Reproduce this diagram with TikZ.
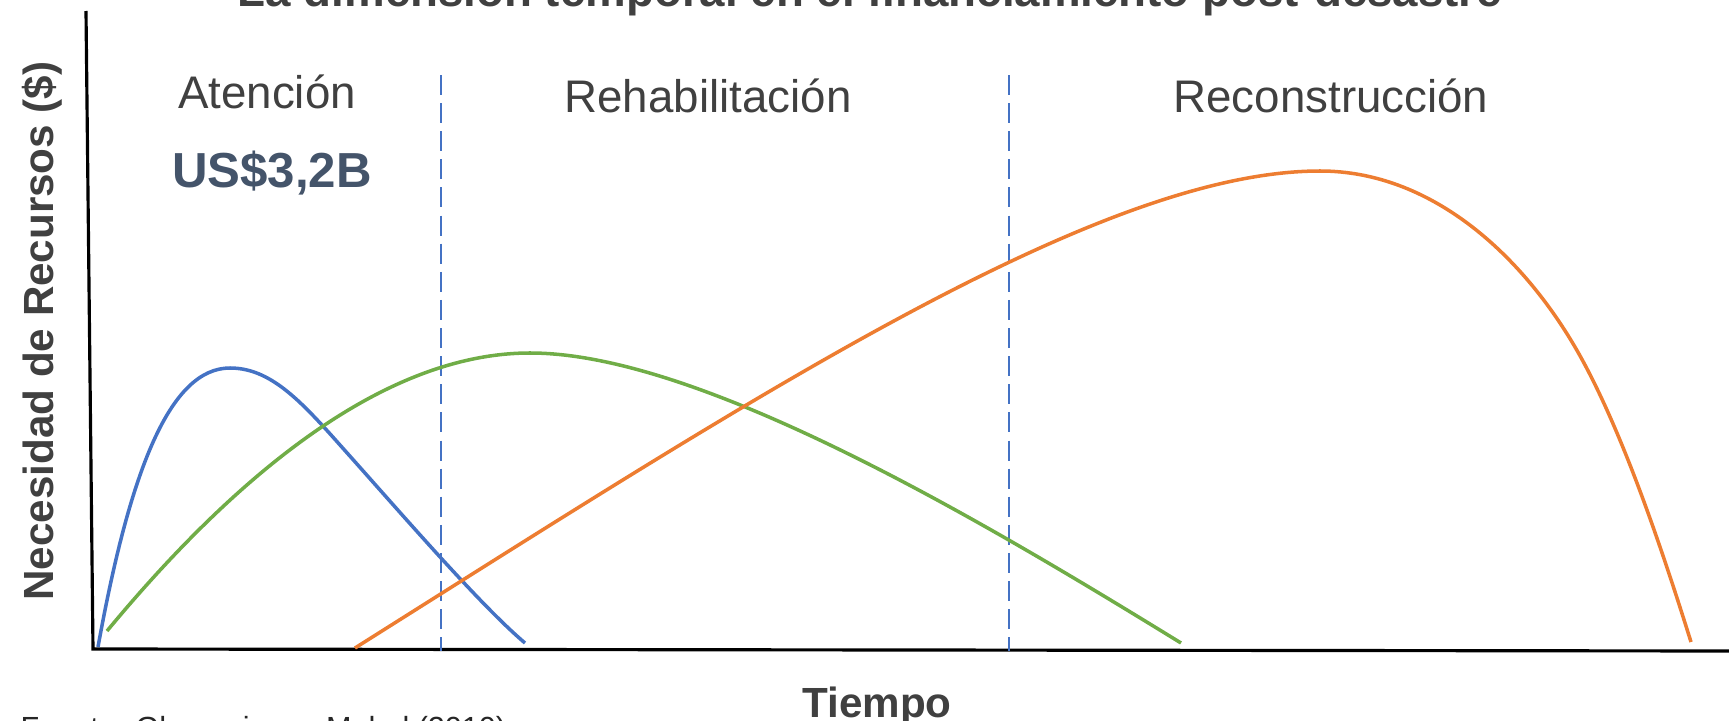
\documentclass[tikz,border=0pt]{standalone}
\usepackage{fontspec}
\setmainfont{Liberation Sans}
\usetikzlibrary{positioning}
\definecolor{txtgray}{HTML}{404040}
\definecolor{slate}{HTML}{44546A}
\definecolor{atenblue}{HTML}{4472C4}
\definecolor{rehabgreen}{HTML}{70AD47}
\definecolor{reconorange}{HTML}{ED7D31}
\begin{document}
\begin{tikzpicture}[x=0.1mm, y=-0.1mm, inner sep=0pt,
        phase/.style = {text=txtgray, font=\fontsize{13}{15}\selectfont, anchor=base},
        axislbl/.style = {text=txtgray, font=\bfseries\fontsize{12}{14}\selectfont, anchor=base},
        curve/.style = {line width=1pt, line join=round},
        split/.style = {atenblue, line width=0.6pt, dash pattern=on 5.7pt off 2.3pt}]
    \path[use as bounding box, clip] (0,0) rectangle (1729,721);
    % titulo y fuente
    \node[text=txtgray, font=\bfseries\fontsize{13}{15}\selectfont, anchor=base] (title) at (870,6) {La dimensión temporal en el financiamiento post-desastre};
    \node[text=black!85, font=\fontsize{8.7}{10}\selectfont, anchor=base west] (src) at (20,738) {Fuente: Ghesquiere y Mahul (2010)};
    % ejes
    \coordinate (top) at (86,11);
    \coordinate (O) at (93,649);
    \coordinate (end) at (1729,651);
    \draw[line width=0.9pt] (top) -- (O) -- (end);
    \node[axislbl] (tiempo) at (877,717) {Tiempo};
    \node[axislbl, rotate=90] (recursos) at (53,331) {Necesidad de Recursos (\$)};
    % fases
    \coordinate (d1) at (441,75);
    \coordinate (d2) at (1009,75);
    \draw[split] (d1) -- (441,651);
    \draw[split] (d2) -- (1009,651);
    \node[phase] (aten) at (267,108) {Atención};
    \node[phase] (rehab) at (708,112) {Rehabilitación};
    \node[phase] (recon) at (1331,112) {Reconstrucción};
    \node[text=slate, font=\bfseries\fontsize{14}{16}\selectfont, anchor=base] (monto) at (272,187) {US\$3,2B};
    % curvas
    \draw[curve, atenblue] (98,647) .. controls (130,470) and (170,368) .. (230,368)
        .. controls (270,368) and (300,400) .. (340,445)
        .. controls (400,512) and (480,605) .. (525,643);
    \draw[curve, rehabgreen] (107,631) .. controls (257,450) and (400,353) .. (530,353)
        .. controls (700,353) and (981,520) .. (1181,643);
    \draw[curve, reconorange] (355,648) .. controls (755,396) and (1100,171) .. (1320,171)
        .. controls (1430,171) and (1520,253) .. (1575,347)
        .. controls (1620,424) and (1661,546) .. (1691,642);
\end{tikzpicture}
\end{document}
